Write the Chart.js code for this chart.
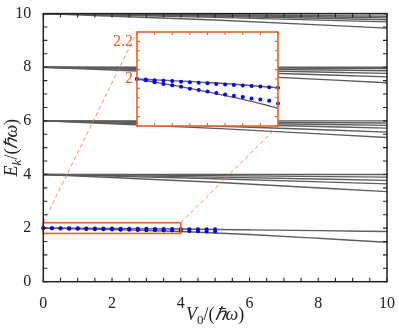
<!DOCTYPE html>
<html>
<head>
<meta charset="utf-8">
<script src="https://cdn.jsdelivr.net/npm/chart.js@4.4.1/dist/chart.umd.min.js"></script>
<style>
  html, body { margin: 0; padding: 0; background: #fff; }
  #wrap { position: relative; width: 399px; height: 328px; }
  #main { position: absolute; left: 0; top: 0; }
  #inset { position: absolute; }
</style>
</head>
<body>
<div id="wrap">
  <canvas id="main" width="399" height="328"></canvas>
  <canvas id="inset"></canvas>
</div>
<script>
// ---- data ----
const levelX = [0, 5, 10];
const level10Mid = [10, 9.955, 9.93, 9.9, 9.86, 9.76];
const level10End = [10, 9.9, 9.84, 9.77, 9.69, 9.46];
const level8Mid = [8, 7.98, 7.94, 7.9, 7.84, 7.74];
const level8End = [8, 7.95, 7.87, 7.77, 7.64, 7.42];
const level6Mid = [6, 5.96, 5.92, 5.88, 5.81, 5.72];
const level6End = [6, 5.92, 5.83, 5.73, 5.58, 5.38];
const level4Mid = [4, 3.955, 3.9, 3.84, 3.71];
const level4End = [4, 3.9, 3.78, 3.65, 3.36];

const level2X = [0, 2, 4, 6, 8, 10];
const level2Upper = [2, 1.985, 1.963, 1.935, 1.905, 1.87];
const level2Lower = [2, 1.945, 1.875, 1.76, 1.62, 1.47];

const dotX = [0, 0.25, 0.5, 0.75, 1, 1.25, 1.5, 1.75, 2, 2.25, 2.5, 2.75, 3, 3.25, 3.5, 3.75, 4, 4.25, 4.5, 4.75, 5];
const dotUpper = [2, 1.998, 1.995, 1.993, 1.991, 1.988, 1.986, 1.984, 1.982, 1.979, 1.977, 1.975, 1.972, 1.97, 1.968, 1.965, 1.963, 1.961, 1.958, 1.956, 1.954];
const dotLower = [2, 1.995, 1.986, 1.979, 1.973, 1.967, 1.958, 1.953, 1.947, 1.94, 1.934, 1.929, 1.923, 1.917, 1.913, 1.907, 1.896, 1.889, 1.882, 1.875, 1.868];

const zoomX = [0, 4];
const zoomY = [1.8, 2.2];
const insetYLabels = [2, 2.2];
const xTitleParts = [{ t: 'V', it: true }, { t: '0', sub: true }, { t: '/(' }, { t: 'ℏω', it: true }, { t: ')' }];
const yTitleParts = [{ t: 'E', it: true }, { t: 'k', it: true, sub: true }, { t: '/(' }, { t: 'ℏω', it: true }, { t: ')' }];

// ---- styles ----
const SERIF = '"Liberation Serif", "Times New Roman", serif';
const GRAY = '#5e5e5e';
const BLUE = '#0000ff';
const ORANGE = '#e4622a';
const DASH = 'rgba(236,120,80,0.85)';
const AXIS = '#222222';
const INSET = { left: 137, top: 32, right: 278, bottom: 126 };

const pts = (xs, ys) => xs.map((v, i) => ({ x: v, y: ys[i] }));

const lineSet = (data) => ({
  data,
  showLine: true,
  borderColor: GRAY,
  borderWidth: 1.4,
  pointRadius: 0,
  tension: 0,
  cubicInterpolationMode: 'monotone',
});

const dotSet = (data, r) => ({
  data,
  showLine: false,
  pointRadius: r,
  pointBorderWidth: 0,
  pointBackgroundColor: BLUE,
  clip: false,
});

const fan = (start, mids, ends) => mids.map((m, i) => lineSet(pts(levelX, [start, m, ends[i]])));

function partFont(p, size) {
  const s = p.sub ? Math.round(size * 0.7) : size;
  return (p.it ? 'italic ' : '') + s + 'px ' + SERIF;
}
function drawRich(ctx, parts, size, cx, baseY) {
  let w = 0;
  parts.forEach((p) => { ctx.font = partFont(p, size); w += ctx.measureText(p.t).width; });
  let xp = cx - w / 2;
  ctx.textAlign = 'left';
  ctx.textBaseline = 'alphabetic';
  parts.forEach((p) => {
    ctx.font = partFont(p, size);
    ctx.fillText(p.t, xp, baseY + (p.sub ? size * 0.22 : 0));
    xp += ctx.measureText(p.t).width;
  });
}

function frameTicks(ctx, a, xs, ys, xStep, yStep, len, color) {
  ctx.strokeStyle = color;
  ctx.lineWidth = 1.1;
  ctx.beginPath();
  for (let v = xs.min; v <= xs.max + 1e-9; v += xStep) {
    const px = xs.getPixelForValue(v);
    ctx.moveTo(px, a.bottom); ctx.lineTo(px, a.bottom - len);
    ctx.moveTo(px, a.top); ctx.lineTo(px, a.top + len);
  }
  for (let v = ys.min; v <= ys.max + 1e-9; v += yStep) {
    const py = ys.getPixelForValue(v);
    ctx.moveTo(a.left, py); ctx.lineTo(a.left + len, py);
    ctx.moveTo(a.right, py); ctx.lineTo(a.right - len, py);
  }
  ctx.stroke();
}

const mainDecor = {
  id: 'mainDecor',
  afterDatasetsDraw(chart) {
    const { ctx, chartArea: a, scales: { x, y } } = chart;
    ctx.save();
    const rx0 = x.getPixelForValue(zoomX[0]);
    const rx1 = x.getPixelForValue(zoomX[1]);
    const ry0 = y.getPixelForValue(zoomY[1]);
    const ry1 = y.getPixelForValue(zoomY[0]);

    // connectors to the inset
    ctx.strokeStyle = DASH;
    ctx.lineWidth = 1;
    ctx.setLineDash([4, 3]);
    ctx.beginPath();
    ctx.moveTo(rx0, ry0); ctx.lineTo(INSET.left, INSET.top);
    ctx.moveTo(rx1, ry0); ctx.lineTo(INSET.right, INSET.bottom);
    ctx.stroke();
    ctx.setLineDash([]);

    // zoom box
    ctx.strokeStyle = ORANGE;
    ctx.lineWidth = 1.6;
    ctx.strokeRect(rx0, ry0, rx1 - rx0, ry1 - ry0);

    // frame + inward ticks
    frameTicks(ctx, a, x, y, 0.5, 0.5, 4, AXIS);
    ctx.strokeStyle = AXIS;
    ctx.lineWidth = 1.5;
    ctx.strokeRect(a.left, a.top, a.right - a.left, a.bottom - a.top);
    ctx.restore();
  },
  afterDraw(chart) {
    const { ctx, chartArea: a } = chart;
    ctx.save();
    ctx.fillStyle = AXIS;
    drawRich(ctx, xTitleParts, 18, (a.left + a.right) / 2, 320);
    ctx.translate(17, (a.top + a.bottom) / 2);
    ctx.rotate(-Math.PI / 2);
    drawRich(ctx, yTitleParts, 18, 0, 0);
    ctx.restore();
  },
};

const insetDecor = {
  id: 'insetDecor',
  beforeDatasetsDraw(chart) {
    const { ctx, chartArea: a } = chart;
    ctx.save();
    ctx.fillStyle = '#fff';
    ctx.fillRect(a.left, a.top, a.right - a.left, a.bottom - a.top);
    ctx.restore();
  },
  afterDatasetsDraw(chart) {
    const { ctx, chartArea: a, scales: { x, y } } = chart;
    ctx.save();
    frameTicks(ctx, a, x, y, 0.5, 0.04, 3, ORANGE);
    ctx.strokeStyle = ORANGE;
    ctx.lineWidth = 1.6;
    ctx.strokeRect(a.left, a.top, a.right - a.left, a.bottom - a.top);
    ctx.fillStyle = ORANGE;
    ctx.font = '16px ' + SERIF;
    ctx.textAlign = 'right';
    ctx.textBaseline = 'middle';
    insetYLabels.forEach((v, i) => {
      const py = y.getPixelForValue(v) + (i === 1 ? 10 : 0);
      ctx.fillText(String(v), a.left - 4, py);
    });
    ctx.restore();
  },
};

const tickFont = { family: SERIF, size: 16 };

new Chart(document.getElementById('main').getContext('2d'), {
  type: 'scatter',
  data: {
    datasets: [
      dotSet(pts(dotX, dotUpper), 2),
      dotSet(pts(dotX, dotLower), 2),
      lineSet(pts(level2X, level2Upper)),
      lineSet(pts(level2X, level2Lower)),
      ...fan(4, level4Mid, level4End),
      ...fan(6, level6Mid, level6End),
      ...fan(8, level8Mid, level8End),
      ...fan(10, level10Mid, level10End),
    ],
  },
  options: {
    responsive: false,
    animation: false,
    layout: { padding: { top: 10, right: 9.5, left: 0, bottom: 0 } },
    plugins: { legend: { display: false }, tooltip: { enabled: false } },
    scales: {
      x: {
        type: 'linear',
        min: 0,
        max: 10,
        grid: { display: false },
        border: { display: false },
        ticks: { stepSize: 2, font: tickFont, color: AXIS, padding: 4, maxRotation: 0 },
        afterFit: (s) => { s.height = 46.3; },
      },
      y: {
        min: 0,
        max: 10,
        grid: { display: false },
        border: { display: false },
        ticks: { stepSize: 2, font: tickFont, color: AXIS, padding: 4 },
        afterFit: (s) => { s.width = 43.3; },
      },
    },
  },
  plugins: [mainDecor],
});

// inset canvas placed so that its plot area lands on INSET
const padL = 40, padT = 10, padR = 4, padB = 4;
const insetCanvas = document.getElementById('inset');
insetCanvas.width = INSET.right - INSET.left + padL + padR;
insetCanvas.height = INSET.bottom - INSET.top + padT + padB;
insetCanvas.style.left = (INSET.left - padL) + 'px';
insetCanvas.style.top = (INSET.top - padT) + 'px';

new Chart(insetCanvas.getContext('2d'), {
  type: 'scatter',
  data: {
    datasets: [
      dotSet(pts(dotX.slice(0, 17), dotUpper.slice(0, 17)), 2),
      dotSet(pts(dotX.slice(0, 17), dotLower.slice(0, 17)), 2),
      lineSet(pts(level2X, level2Upper)),
      lineSet(pts(level2X, level2Lower)),
    ],
  },
  options: {
    responsive: false,
    animation: false,
    layout: { padding: { left: padL, top: padT, right: padR, bottom: padB } },
    plugins: { legend: { display: false }, tooltip: { enabled: false } },
    scales: {
      x: { type: 'linear', min: zoomX[0], max: zoomX[1], display: false },
      y: { min: zoomY[0], max: zoomY[1], display: false },
    },
  },
  plugins: [insetDecor],
});
</script>
</body>
</html>
